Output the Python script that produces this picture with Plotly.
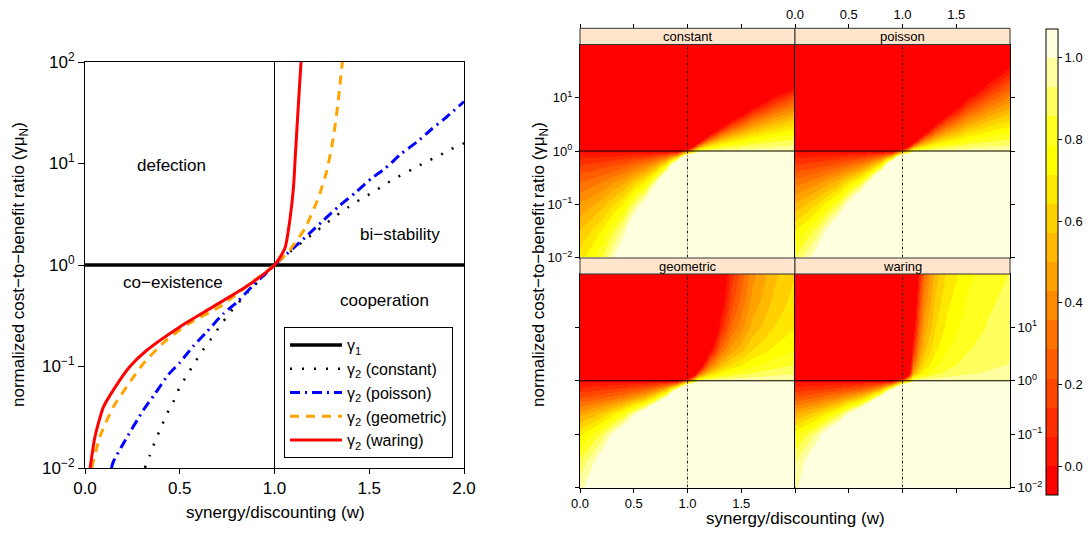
import plotly.graph_objects as go

FIG_W, FIG_H = 1089, 533
FONT = "Liberation Sans, Arial, Helvetica, sans-serif"

# ---------------- left chart: critical cost-to-benefit curves ----
W_CONSTANT = [0.316, 0.343, 0.369, 0.399, 0.431, 0.466, 0.498, 0.537, 0.58, 0.621, 0.665,
              0.709, 0.756, 0.806, 0.858, 0.911, 1.0, 1.082, 1.143, 1.205, 1.266, 1.328,
              1.39, 1.456, 1.522, 1.588, 1.653, 1.724, 1.794, 1.861, 1.93, 2.0]
LOG_G_CONSTANT = [-2.0, -1.87, -1.74, -1.61, -1.47, -1.35, -1.21, -1.09, -0.96, -0.84, -0.73,
                  -0.61, -0.49, -0.38, -0.27, -0.17, 0.0, 0.13, 0.22, 0.31, 0.40, 0.49,
                  0.57, 0.65, 0.72, 0.80, 0.87, 0.94, 1.01, 1.07, 1.14, 1.20]

W_POISSON = [0.14, 0.149, 0.202, 0.308, 0.369, 0.44, 0.501, 0.571, 0.642, 0.73, 0.80, 0.888,
             1.0, 1.108, 1.178, 1.258, 1.337, 1.425, 1.513, 1.583, 1.671, 1.75, 1.83, 1.909, 2.0]
LOG_G_POISSON = [-2.0, -1.94, -1.76, -1.43, -1.27, -1.08, -0.96, -0.80, -0.66, -0.48, -0.37, -0.20,
                 0.0, 0.18, 0.30, 0.44, 0.575, 0.71, 0.855, 0.95, 1.10, 1.21, 1.34, 1.46, 1.61]

W_GEOMETRIC = [0.035, 0.079, 0.149, 0.22, 0.308, 0.43, 0.554, 0.712, 0.853, 1.0,
               1.073, 1.16, 1.231, 1.275, 1.31, 1.334, 1.358]
LOG_G_GEOMETRIC = [-2.0, -1.69, -1.40, -1.20, -0.97, -0.74, -0.57, -0.41, -0.21, 0.0,
                   0.13, 0.36, 0.66, 0.92, 1.25, 1.58, 2.0]

W_WARING = [0.027, 0.053, 0.097, 0.15, 0.237, 0.326, 0.50, 0.677, 0.853, 1.0,
            1.055, 1.08, 1.10, 1.11, 1.126, 1.14]
LOG_G_WARING = [-2.0, -1.69, -1.40, -1.23, -1.0, -0.84, -0.61, -0.41, -0.21, 0.0,
                0.165, 0.43, 0.76, 1.08, 1.58, 2.0]

GAMMA_1 = 1.0          # gamma_1 threshold
W_NEUTRAL = 1.0        # w = 1
W_RANGE = [0.0, 2.0]
LOG_G_RANGE = [-2.0, 2.0]

REGION_LABELS = ["defection", "bi\u2212stability", "co\u2212existence", "cooperation"]
REGION_W = [0.459, 1.662, 0.464, 1.578]
REGION_LOG_G = [0.985, 0.305, -0.177, -0.345]

X_TICKS = [0.0, 0.5, 1.0, 1.5, 2.0]
X_TICK_TEXT = ["0.0", "0.5", "1.0", "1.5", "2.0"]
LOG_TICKS = [-2, -1, 0, 1, 2]
LOG_TICK_TEXT = ["10<sup>\u22122</sup>", "10<sup>\u22121</sup>", "10<sup>0</sup>",
                 "10<sup>1</sup>", "10<sup>2</sup>"]

# ---------------- right chart: level plots ----------
# values below 0 / above 1 simply saturate to the end colours
W_GRID = [0, 0.1, 0.2, 0.4, 0.6, 0.7, 0.8, 0.9, 1.0, 1.1, 1.15, 1.2, 1.3, 1.4, 1.6, 1.8, 2.0]
LOG_G_GRID = [-2, -1.5, -1, -0.6, -0.3, -0.15, 0, 0.15, 0.3, 0.6, 1, 1.5, 2]

Z_CONSTANT = [
    [0.684, 0.760, 0.855, 1.140, 1.71, 2, 2, 2, 2, 2, 2, 2, 2, 2, 2, 1.855, 1.684],
    [0.578, 0.642, 0.723, 0.963, 1.445, 1.927, 2, 2, 2, 2, 2, 2, 2, 2, 1.963, 1.723, 1.578],
    [0.438, 0.487, 0.548, 0.730, 1.095, 1.460, 2, 2, 2, 2, 2, 2, 2, 2, 1.730, 1.548, 1.438],
    [0.292, 0.324, 0.365, 0.487, 0.730, 0.973, 1.460, 2, 2, 2, 2, 2, 1.973, 1.730, 1.487, 1.365, 1.292],
    [0.159, 0.177, 0.199, 0.265, 0.398, 0.530, 0.795, 1.59, 2, 2, 2, 1.795, 1.530, 1.398, 1.265, 1.199, 1.159],
    [0.083, 0.092, 0.104, 0.138, 0.208, 0.277, 0.415, 0.830, 2, 1.83, 1.553, 1.415, 1.277, 1.208, 1.138, 1.104, 1.083],
    [0, 0, 0, 0, 0, 0, 0, 0, 0.5, 1, 1, 1, 1, 1, 1, 1, 1],
    [-0.090, -0.100, -0.113, -0.150, -0.225, -0.300, -0.450, -0.900, -1, 0.10, 0.40, 0.55, 0.70, 0.775, 0.85, 0.888, 0.91],
    [-0.189, -0.210, -0.236, -0.315, -0.473, -0.630, -0.945, -1, -1, -0.89, -0.26, 0.055, 0.37, 0.528, 0.685, 0.764, 0.811],
    [-0.413, -0.459, -0.516, -0.688, -1, -1, -1, -1, -1, -1, -1, -1, -0.377, -0.033, 0.312, 0.484, 0.587],
    [-0.778, -0.864, -0.973, -1, -1, -1, -1, -1, -1, -1, -1, -1, -1, -0.945, -0.297, 0.028, 0.222],
    [-1, -1, -1, -1, -1, -1, -1, -1, -1, -1, -1, -1, -1, -1, -1, -0.714, -0.371],
    [-1, -1, -1, -1, -1, -1, -1, -1, -1, -1, -1, -1, -1, -1, -1, -1, -1],
]
Z_POISSON = [
    [0.865, 0.961, 1.081, 1.442, 2, 2, 2, 2, 2, 2, 2, 2, 2, 2, 2, 2, 1.865],
    [0.714, 0.793, 0.893, 1.190, 1.785, 2, 2, 2, 2, 2, 2, 2, 2, 2, 2, 1.893, 1.714],
    [0.519, 0.577, 0.649, 0.865, 1.298, 1.730, 2, 2, 2, 2, 2, 2, 2, 2, 1.865, 1.649, 1.519],
    [0.329, 0.366, 0.411, 0.548, 0.823, 1.097, 1.645, 2, 2, 2, 2, 2, 2, 1.823, 1.548, 1.411, 1.329],
    [0.164, 0.182, 0.205, 0.273, 0.410, 0.547, 0.820, 1.64, 2, 2, 2, 1.82, 1.547, 1.41, 1.273, 1.205, 1.164],
    [0.084, 0.093, 0.105, 0.140, 0.210, 0.280, 0.420, 0.840, 2, 1.84, 1.56, 1.42, 1.28, 1.21, 1.14, 1.105, 1.084],
    [0, 0, 0, 0, 0, 0, 0, 0, 0.5, 1, 1, 1, 1, 1, 1, 1, 1],
    [-0.090, -0.100, -0.113, -0.150, -0.225, -0.300, -0.450, -0.900, -1, 0.10, 0.40, 0.55, 0.70, 0.775, 0.85, 0.888, 0.91],
    [-0.178, -0.198, -0.223, -0.297, -0.445, -0.593, -0.890, -1, -1, -0.78, -0.187, 0.11, 0.407, 0.555, 0.703, 0.778, 0.822],
    [-0.353, -0.392, -0.441, -0.588, -0.883, -1, -1, -1, -1, -1, -1, -0.765, -0.177, 0.118, 0.412, 0.559, 0.647],
    [-0.612, -0.680, -0.765, -1, -1, -1, -1, -1, -1, -1, -1, -1, -1, -0.53, -0.02, 0.235, 0.388],
    [-0.933, -1, -1, -1, -1, -1, -1, -1, -1, -1, -1, -1, -1, -1, -0.555, -0.166, 0.067],
    [-1, -1, -1, -1, -1, -1, -1, -1, -1, -1, -1, -1, -1, -1, -1, -0.538, -0.23],
]
Z_GEOMETRIC = [
    [0.970, 1.078, 1.213, 1.617, 2, 2, 2, 2, 2, 2, 2, 2, 2, 2, 2, 2, 1.97],
    [0.875, 0.972, 1.094, 1.458, 2, 2, 2, 2, 2, 2, 2, 2, 2, 2, 2, 2, 1.875],
    [0.703, 0.781, 0.879, 1.172, 1.758, 2, 2, 2, 2, 2, 2, 2, 2, 2, 2, 1.879, 1.703],
    [0.468, 0.520, 0.585, 0.780, 1.170, 1.560, 2, 2, 2, 2, 2, 2, 2, 2, 1.780, 1.585, 1.468],
    [0.210, 0.233, 0.263, 0.350, 0.525, 0.700, 1.050, 2, 2, 2, 2, 2, 1.70, 1.525, 1.350, 1.263, 1.210],
    [0.105, 0.117, 0.131, 0.175, 0.263, 0.350, 0.525, 1.050, 2, 2, 1.70, 1.525, 1.350, 1.263, 1.175, 1.131, 1.105],
    [0, 0, 0, 0, 0, 0, 0, 0, 0.5, 1, 1, 1, 1, 1, 1, 1, 1],
    [-0.081, -0.090, -0.101, -0.135, -0.203, -0.270, -0.405, -0.810, -1, 0.19, 0.46, 0.595, 0.73, 0.798, 0.865, 0.899, 0.919],
    [-0.137, -0.152, -0.171, -0.228, -0.343, -0.457, -0.685, -1, -1, -0.37, 0.087, 0.315, 0.543, 0.658, 0.772, 0.829, 0.863],
    [-0.217, -0.241, -0.271, -0.362, -0.543, -0.723, -1, -1, -1, -1, -0.447, -0.085, 0.277, 0.458, 0.638, 0.729, 0.783],
    [-0.283, -0.314, -0.354, -0.472, -0.708, -0.943, -1, -1, -1, -1, -0.887, -0.415, 0.057, 0.293, 0.528, 0.646, 0.717],
    [-0.328, -0.364, -0.410, -0.547, -0.820, -1, -1, -1, -1, -1, -1, -0.64, -0.093, 0.18, 0.453, 0.59, 0.672],
    [-0.358, -0.398, -0.448, -0.597, -0.895, -1, -1, -1, -1, -1, -1, -0.79, -0.193, 0.105, 0.403, 0.553, 0.642],
]
Z_WARING = [
    [0.973, 1.081, 1.216, 1.622, 2, 2, 2, 2, 2, 2, 2, 2, 2, 2, 2, 2, 1.973],
    [0.918, 1.020, 1.148, 1.530, 2, 2, 2, 2, 2, 2, 2, 2, 2, 2, 2, 2, 1.918],
    [0.763, 0.848, 0.954, 1.272, 1.908, 2, 2, 2, 2, 2, 2, 2, 2, 2, 2, 1.954, 1.763],
    [0.491, 0.546, 0.614, 0.818, 1.228, 1.637, 2, 2, 2, 2, 2, 2, 2, 2, 1.818, 1.614, 1.491],
    [0.226, 0.251, 0.283, 0.377, 0.565, 0.753, 1.130, 2, 2, 2, 2, 2, 1.753, 1.565, 1.377, 1.283, 1.226],
    [0.105, 0.117, 0.131, 0.175, 0.263, 0.350, 0.525, 1.050, 2, 2, 1.70, 1.525, 1.350, 1.263, 1.175, 1.131, 1.105],
    [0, 0, 0, 0, 0, 0, 0, 0, 0.5, 1, 1, 1, 1, 1, 1, 1, 1],
    [-0.050, -0.056, -0.063, -0.083, -0.125, -0.167, -0.250, -0.500, -1, 0.5, 0.667, 0.75, 0.833, 0.875, 0.917, 0.938, 0.95],
    [-0.068, -0.076, -0.085, -0.113, -0.170, -0.227, -0.340, -0.680, -1, 0.32, 0.547, 0.66, 0.773, 0.83, 0.887, 0.915, 0.932],
    [-0.090, -0.100, -0.113, -0.150, -0.225, -0.300, -0.450, -0.900, -1, 0.10, 0.40, 0.55, 0.70, 0.775, 0.85, 0.888, 0.91],
    [-0.108, -0.120, -0.135, -0.180, -0.270, -0.360, -0.540, -1, -1, -0.08, 0.28, 0.46, 0.64, 0.73, 0.82, 0.865, 0.892],
    [-0.123, -0.137, -0.154, -0.205, -0.308, -0.410, -0.615, -1, -1, -0.23, 0.18, 0.385, 0.59, 0.693, 0.795, 0.846, 0.877],
    [-0.140, -0.156, -0.175, -0.233, -0.350, -0.467, -0.700, -1, -1, -0.4, 0.067, 0.30, 0.533, 0.65, 0.767, 0.825, 0.86],
]

PANEL_NAMES = ["constant", "poisson", "geometric", "waring"]
PANEL_Z = [Z_CONSTANT, Z_POISSON, Z_GEOMETRIC, Z_WARING]

HEAT_COLORS = ["#FF0000", "#FF1700", "#FF2E00", "#FF4600", "#FF5D00", "#FF7400", "#FF8B00",
               "#FFA200", "#FFB900", "#FFD100", "#FFE800", "#FFFF00", "#FFFF20", "#FFFF60",
               "#FFFF9F", "#FFFFDF"]
Z_MIN, Z_MAX = -0.07, 1.07
CBAR_TICKS = [0.0, 0.2, 0.4, 0.6, 0.8, 1.0]
CBAR_TICK_TEXT = ["0.0", "0.2", "0.4", "0.6", "0.8", "1.0"]

PANEL_X_TICKS = [0.0, 0.5, 1.0, 1.5]
PANEL_X_TICK_TEXT = ["0.0", "0.5", "1.0", "1.5"]
PANEL_Y_TICKS = [-2, -1, 0, 1]
PANEL_Y_TICK_TEXT = ["10<sup>\u22122</sup>", "10<sup>\u22121</sup>", "10<sup>0</sup>", "10<sup>1</sup>"]


def px(x):
    return x / FIG_W


def py(y):
    return 1 - y / FIG_H


colorscale = []
n = len(HEAT_COLORS)
for i, c in enumerate(HEAT_COLORS):
    colorscale.append([i / n, c])
    colorscale.append([(i + 1) / n, c])

fig = go.Figure()

# ---------------- left chart traces ----------------
fig.add_trace(go.Scatter(x=W_RANGE, y=[GAMMA_1, GAMMA_1], mode="lines",
                         line=dict(color="black", width=3.5), name="\u03b3<sub>1</sub>",
                         xaxis="x", yaxis="y"))
fig.add_trace(go.Scatter(x=[W_NEUTRAL, W_NEUTRAL], y=[10 ** LOG_G_RANGE[0], 10 ** LOG_G_RANGE[1]],
                         mode="lines", line=dict(color="black", width=1), showlegend=False,
                         xaxis="x", yaxis="y"))

curves = [
    ("\u03b3<sub>2</sub> (constant)", W_CONSTANT, LOG_G_CONSTANT, "black", "2px,10px", 2.5),
    ("\u03b3<sub>2</sub> (poisson)", W_POISSON, LOG_G_POISSON, "#0000FF", "10px,5px,2px,5px", 3),
    ("\u03b3<sub>2</sub> (geometric)", W_GEOMETRIC, LOG_G_GEOMETRIC, "#FFA500", "9px,7px", 3),
    ("\u03b3<sub>2</sub> (waring)", W_WARING, LOG_G_WARING, "#FF0000", "solid", 3),
]
for name, ws, lg, col, dash, wdt in curves:
    fig.add_trace(go.Scatter(x=ws, y=[10 ** v for v in lg], mode="lines", name=name,
                             line=dict(color=col, width=wdt, dash=dash, shape="spline", smoothing=0.6),
                             xaxis="x", yaxis="y"))

# ---------------- right chart traces ----------------
panel_axes = [("x2", "y2"), ("x3", "y3"), ("x4", "y4"), ("x5", "y5")]
for k, ((xa, ya), z) in enumerate(zip(panel_axes, PANEL_Z)):
    fig.add_trace(go.Heatmap(
        x=W_GRID, y=LOG_G_GRID, z=z, zmin=Z_MIN, zmax=Z_MAX, colorscale=colorscale,
        zsmooth="best", xaxis=xa, yaxis=ya, showscale=(k == 0), hoverinfo="skip",
        colorbar=dict(thickness=12, thicknessmode="pixels", len=(495 - 29) / FIG_H,
                      lenmode="fraction", x=px(1046), xanchor="left", y=py(262),
                      yanchor="middle", outlinewidth=1, outlinecolor="black",
                      xpad=0, ypad=0, tickvals=CBAR_TICKS, ticktext=CBAR_TICK_TEXT,
                      ticks="outside", ticklen=4, tickcolor="black",
                      tickfont=dict(family=FONT, size=13, color="black"))))
    fig.add_trace(go.Scatter(x=W_RANGE, y=[0, 0], mode="lines",
                             line=dict(color="black", width=1), showlegend=False,
                             xaxis=xa, yaxis=ya, hoverinfo="skip"))
    fig.add_trace(go.Scatter(x=[W_NEUTRAL, W_NEUTRAL], y=LOG_G_RANGE, mode="lines",
                             line=dict(color="#222222", width=1, dash="3px,2px,1px,2px"),
                             showlegend=False, xaxis=xa, yaxis=ya, hoverinfo="skip"))

# dummy traces to carry the top axes
fig.add_trace(go.Scatter(x=[], y=[], xaxis="x6", yaxis="y2", showlegend=False))
fig.add_trace(go.Scatter(x=[], y=[], xaxis="x7", yaxis="y3", showlegend=False))

# ---------------- layout ----------------
COL1 = [px(580), px(795)]
COL2 = [px(795), px(1010)]
ROW1 = [py(257.5), py(44.5)]
ROW2 = [py(487.5), py(274)]
STRIP1 = (28.3, 44.5)
STRIP2 = (258.0, 274.0)

base_axis = dict(showgrid=False, zeroline=False, showline=True, mirror=True,
                 linecolor="black", linewidth=1, tickcolor="black",
                 tickfont=dict(family=FONT, size=13, color="black"))

layout = dict(
    width=FIG_W, height=FIG_H,
    margin=dict(l=0, r=0, t=0, b=0, autoexpand=False),
    paper_bgcolor="white", plot_bgcolor="white",
    font=dict(family=FONT, color="black"),
    showlegend=True,
    legend=dict(x=px(284), y=py(327), xanchor="left", yanchor="top",
                bordercolor="black", borderwidth=1, bgcolor="white",
                font=dict(family=FONT, size=16, color="black"), tracegroupgap=0,
                itemwidth=52),
    xaxis=dict(domain=[px(85), px(464)], range=W_RANGE, anchor="y",
               showgrid=False, zeroline=False, showline=True, mirror=True,
               linecolor="black", linewidth=1, ticks="outside", ticklen=5, tickcolor="black",
               tickvals=X_TICKS, ticktext=X_TICK_TEXT,
               tickfont=dict(family=FONT, size=17, color="black")),
    yaxis=dict(domain=[py(468), py(62)], type="log", range=LOG_G_RANGE, anchor="x",
               showgrid=False, zeroline=False, showline=True, mirror=True,
               linecolor="black", linewidth=1, ticks="outside", ticklen=6, tickcolor="black",
               tickvals=[10 ** v for v in LOG_TICKS], ticktext=LOG_TICK_TEXT,
               tickfont=dict(family=FONT, size=17, color="black")),
    xaxis2=dict(base_axis, domain=COL1, range=W_RANGE, anchor="y2", ticks="", showticklabels=False),
    yaxis2=dict(base_axis, domain=ROW1, range=LOG_G_RANGE, anchor="x2", ticks="outside", ticklen=4,
                tickvals=PANEL_Y_TICKS, ticktext=PANEL_Y_TICK_TEXT),
    xaxis3=dict(base_axis, domain=COL2, range=W_RANGE, anchor="y3", ticks="", showticklabels=False),
    yaxis3=dict(base_axis, domain=ROW1, range=LOG_G_RANGE, anchor="x3", side="right",
                ticks="outside", ticklen=4, tickvals=PANEL_Y_TICKS, showticklabels=False),
    xaxis4=dict(base_axis, domain=COL1, range=W_RANGE, anchor="y4", ticks="outside", ticklen=4,
                tickvals=PANEL_X_TICKS, ticktext=PANEL_X_TICK_TEXT),
    yaxis4=dict(base_axis, domain=ROW2, range=LOG_G_RANGE, anchor="x4", ticks="outside", ticklen=4,
                tickvals=PANEL_Y_TICKS, showticklabels=False),
    xaxis5=dict(base_axis, domain=COL2, range=W_RANGE, anchor="y5", ticks="outside", ticklen=4,
                tickvals=PANEL_X_TICKS, showticklabels=False),
    yaxis5=dict(base_axis, domain=ROW2, range=LOG_G_RANGE, anchor="x5", side="right",
                ticks="outside", ticklen=4, tickvals=PANEL_Y_TICKS, ticktext=PANEL_Y_TICK_TEXT),
    xaxis6=dict(base_axis, overlaying="x2", range=W_RANGE, anchor="free", position=py(STRIP1[0]),
                side="top", showline=False, ticks="outside", ticklen=4,
                tickvals=PANEL_X_TICKS, showticklabels=False),
    xaxis7=dict(base_axis, overlaying="x3", range=W_RANGE, anchor="free", position=py(STRIP1[0]),
                side="top", showline=False, ticks="outside", ticklen=4,
                tickvals=PANEL_X_TICKS, ticktext=PANEL_X_TICK_TEXT),
)

shapes = []
annotations = []
strip_specs = [(COL1, STRIP1, PANEL_NAMES[0]), (COL2, STRIP1, PANEL_NAMES[1]),
               (COL1, STRIP2, PANEL_NAMES[2]), (COL2, STRIP2, PANEL_NAMES[3])]
for col, (s0, s1), name in strip_specs:
    shapes.append(dict(type="rect", xref="paper", yref="paper", x0=col[0], x1=col[1],
                       y0=py(s1), y1=py(s0), fillcolor="#FFE5CC",
                       line=dict(color="#333333", width=1), layer="above"))
    annotations.append(dict(xref="paper", yref="paper", x=(col[0] + col[1]) / 2,
                            y=py((s0 + s1) / 2), text=name, showarrow=False,
                            xanchor="center", yanchor="middle",
                            font=dict(family=FONT, size=13, color="black")))

for lab, wv, gv in zip(REGION_LABELS, REGION_W, REGION_LOG_G):
    annotations.append(dict(xref="x", yref="y", x=wv, y=gv, text=lab, showarrow=False,
                            xanchor="center", yanchor="middle",
                            font=dict(family=FONT, size=17, color="black")))

YTITLE = "normalized cost\u2212to\u2212benefit ratio (\u03b3\u03bc<sub>N</sub>)"
XTITLE = "synergy/discounting (w)"
title_font = dict(family=FONT, size=17, color="black")
annotations += [
    dict(xref="paper", yref="paper", x=px(275), y=py(512), text=XTITLE, showarrow=False,
         xanchor="center", yanchor="middle", font=title_font),
    dict(xref="paper", yref="paper", x=px(20), y=py(265), text=YTITLE, showarrow=False,
         xanchor="center", yanchor="middle", textangle=-90, font=title_font),
    dict(xref="paper", yref="paper", x=px(795), y=py(518), text=XTITLE, showarrow=False,
         xanchor="center", yanchor="middle", font=title_font),
    dict(xref="paper", yref="paper", x=px(540), y=py(265), text=YTITLE, showarrow=False,
         xanchor="center", yanchor="middle", textangle=-90, font=title_font),
]

layout["shapes"] = shapes
layout["annotations"] = annotations
fig.update_layout(**layout)

fig.write_html("out.html")
